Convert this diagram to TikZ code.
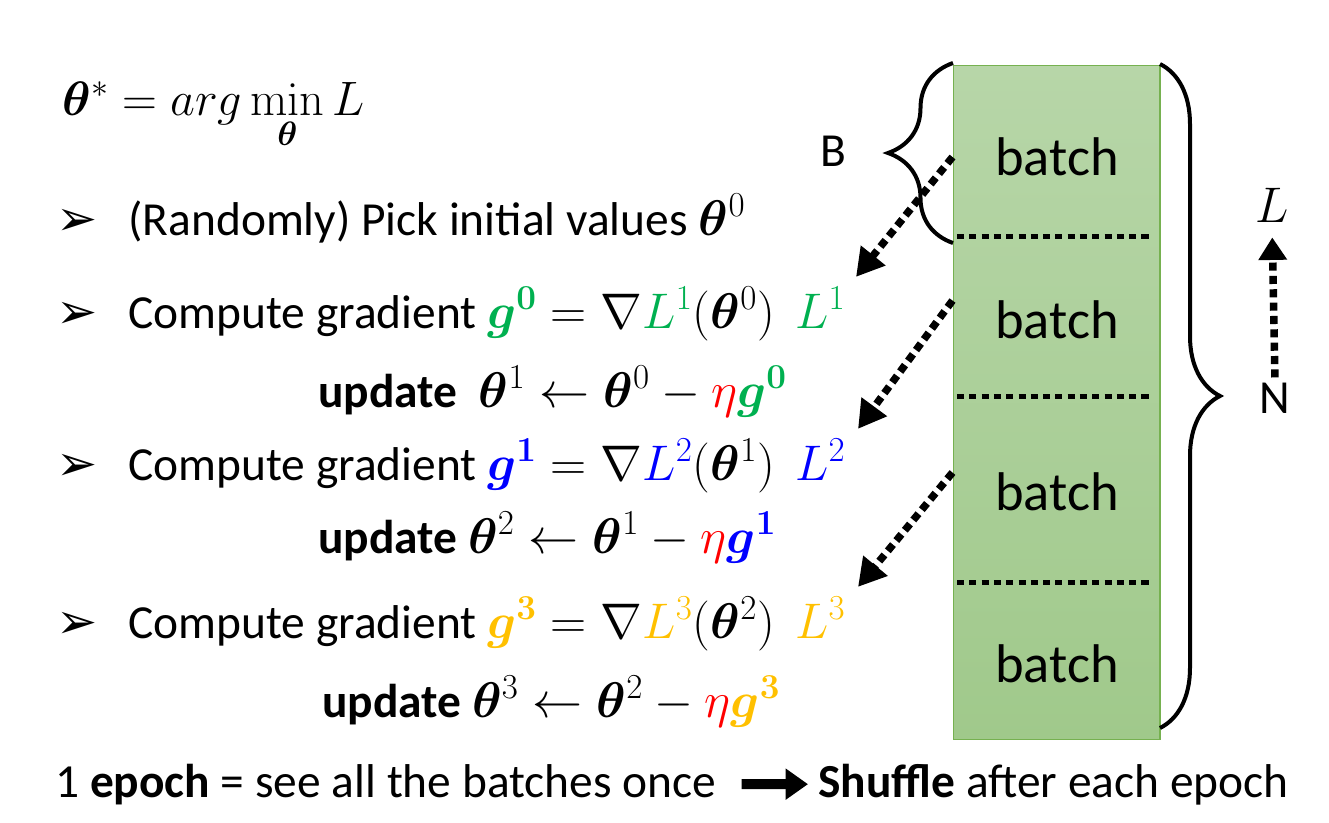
\RequirePackage{fix-cm}
\documentclass[tikz,border=0pt]{standalone}
\usepackage{amsmath}
\usepackage{bm}
\usepackage[no-math]{fontspec}
\setmainfont{Carlito}
\newfontfamily\dingfont{DejaVu Sans}
\usepackage{tikz}
\usetikzlibrary{arrows.meta, positioning, decorations.pathreplacing, calc}
\definecolor{gzero}{HTML}{00B050}
\definecolor{gone}{HTML}{0000FF}
\definecolor{gthree}{HTML}{FFC000}
\definecolor{etared}{HTML}{FF0000}
\definecolor{batchtop}{HTML}{B7D6A8}
\definecolor{batchbot}{HTML}{A0C98B}
\definecolor{batchedge}{HTML}{76B150}
\tikzset{
  txt/.style={inner sep=0pt, anchor=base west, font=\fontsize{27}{32}\selectfont},
  bigmath/.style={inner sep=0pt, anchor=base west, font=\fontsize{27.5}{33}\selectfont},
  bull/.style={inner sep=0pt, anchor=base west, font=\dingfont\fontsize{28}{32}\selectfont},
  batchlbl/.style={inner sep=0pt, font=\fontsize{31}{36}\selectfont},
  stack/.style={draw=batchedge, line width=0.6pt, top color=batchtop, bottom color=batchbot,
                minimum width=4.14cm, minimum height=13.5cm, inner sep=0pt},
  sepline/.style={line width=0.1cm, dash pattern=on 4pt off 3pt},
  dotarrow/.style={line width=0.15cm, dash pattern=on 4.6pt off 3pt,
                   -{Triangle[length=0.55cm,width=0.6cm]}},
  fatarrow/.style={line width=0.2cm, -{Triangle[length=0.45cm,width=0.6cm]}},
  bracket/.style={decorate, line width=0.08cm}
}
\newcommand{\thb}{\bm{\theta}}
\newcommand{\mth}[1]{{\fontsize{28.5}{34}\selectfont$#1$}}

\begin{document}
\begin{tikzpicture}[x=0.02cm, y=-0.02cm]
  \useasboundingbox (0,0) rectangle (1329,822);

  % objective
  \node[bigmath] (goal) at (62,115) {$\thb^{*} = arg\displaystyle\min_{\thb} L$};

  % steps
  \node[bull] (bul1) at (56,235) {➢};
  \node[txt] (init) at (128,235) {(Randomly) Pick initial values \mth{\thb^{0}}};

  \node[bull] (bul2) at (56,328) {➢};
  \node[txt] (grad1) at (128,328) {Compute gradient \mth{{\color{gzero}\bm{g}^{\mathbf{0}}} = \nabla{\color{gzero}L^{1}}(\thb^{0})}};
  \node[txt, text=gzero] (lossA) at (795,328) {\mth{L^{1}}};
  \node[txt] (upd1) at (318,407) {\textbf{update}\ \ \mth{\thb^{1} \leftarrow \thb^{0} - {\color{etared}\eta}{\color{gzero}\bm{g}^{\mathbf{0}}}}};

  \node[bull] (bul3) at (56,480) {➢};
  \node[txt] (grad2) at (128,480) {Compute gradient \mth{{\color{gone}\bm{g}^{\mathbf{1}}} = \nabla{\color{gone}L^{2}}(\thb^{1})}};
  \node[txt, text=gone] (lossB) at (795,480) {\mth{L^{2}}};
  \node[txt] (upd2) at (318,553) {\textbf{update}\ \mth{\thb^{2} \leftarrow \thb^{1} - {\color{etared}\eta}{\color{gone}\bm{g}^{\mathbf{1}}}}};

  \node[bull] (bul4) at (56,638) {➢};
  \node[txt] (grad3) at (128,638) {Compute gradient \mth{{\color{gthree}\bm{g}^{\mathbf{3}}} = \nabla{\color{gthree}L^{3}}(\thb^{2})}};
  \node[txt, text=gthree] (lossC) at (795,638) {\mth{L^{3}}};
  \node[txt] (upd3) at (322,717) {\textbf{update}\ \mth{\thb^{3} \leftarrow \thb^{2} - {\color{etared}\eta}{\color{gthree}\bm{g}^{\mathbf{3}}}}};

  % epoch line
  \node[txt] (epoch) at (55,797) {1 \textbf{epoch} = see all the batches once};
  \node[txt] (shuffle) at (818,797) {\textbf{Shuffle} after each epoch};
  \draw[fatarrow, shorten <=0.5cm, shorten >=0.2cm] (epoch.east) -- (shuffle.west);

  % data column
  \node[stack] (col) at (1056.5,402.5) {};
  \foreach \yy in {236,396,582}
    \draw[sepline] (957,\yy) -- (1150,\yy);
  \node[batchlbl] (b1) at (1057,157) {batch};
  \node[batchlbl] (b2) at (1057,320) {batch};
  \node[batchlbl] (b3) at (1057,492) {batch};
  \node[batchlbl] (b4) at (1057,664) {batch};

  % braces
  \draw[bracket, decoration={brace, amplitude=1.3cm}] (953,243) -- (953,63);
  \node[txt, anchor=center] (blab) at (833,151) {B};
  \draw[bracket, decoration={brace, amplitude=1.2cm}] (1160,64) -- (1160,728);
  \node[txt, anchor=center] (nlab) at (1275,398) {N};
  \node[txt, anchor=center] (llab) at (1272,205) {\mth{L}};
  \draw[dotarrow, -{Triangle[length=0.45cm,width=0.55cm]}, shorten <=0.1cm, shorten >=0.3cm] (nlab.north) -- (llab.south);

  % batch to loss
  \draw[dotarrow] (col.west |- b1) -- ([shift={(10,-10)}]lossA.north east);
  \draw[dotarrow] (col.west |- b2.north) -- ([shift={(12,-10)}]lossB.north east);
  \draw[dotarrow] (col.west |- b3.north) -- ([shift={(12,-10)}]lossC.north east);
\end{tikzpicture}
\end{document}
